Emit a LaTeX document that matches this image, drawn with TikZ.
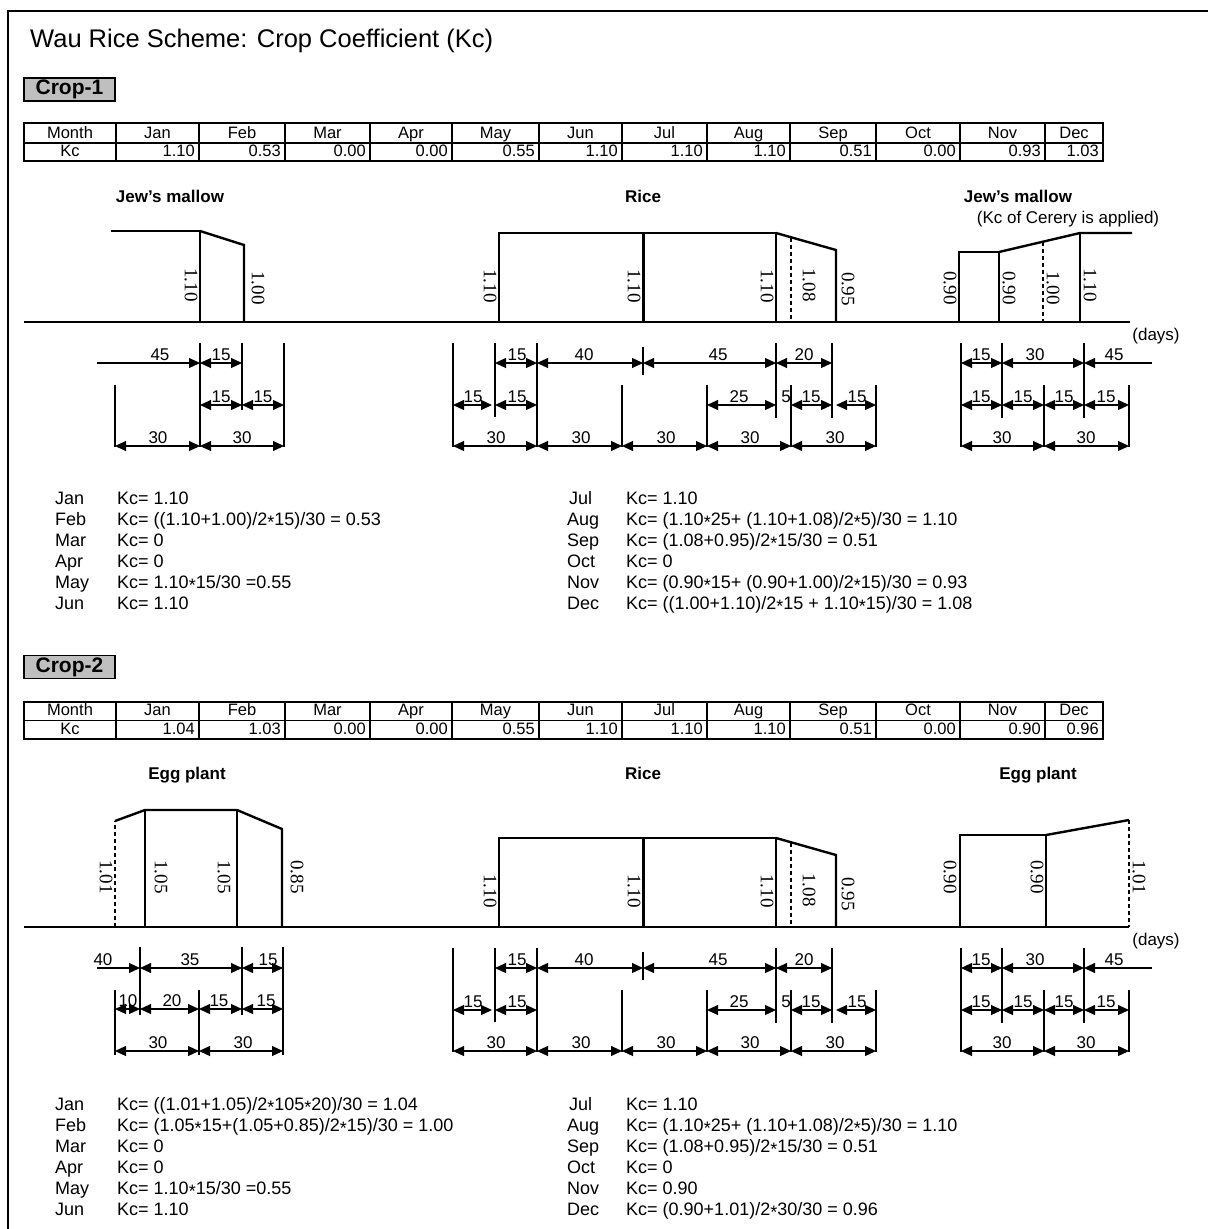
\documentclass[tikz,border=0pt]{standalone}
\usepackage{fontspec}
\setmainfont{Liberation Sans}
\newfontfamily\numserif{Liberation Serif}
\usetikzlibrary{arrows.meta}
\newcounter{nn}
\newcommand\fs[1]{\fontsize{#1}{#1}\selectfont}
\newcommand\mul{\raisebox{-0.35ex}{*}}
\tikzset{
  dtip/.tip={Triangle[length=11pt,width=10pt]},
  frameline/.style={line width=2pt},
  gridline/.style={line width=1.4pt},
  gline/.style={line width=2.4pt,line join=miter},
  gdash/.style={line width=1.3pt,dash pattern=on 4pt off 3pt},
  axisline/.style={line width=1.6pt},
  dimln/.style={line width=1.1pt},
  extln/.style={line width=1.1pt},
  dimlab/.style={anchor=south,inner sep=0.5pt,font=\fs{17}},
  vlab/.style={rotate=-90,inner sep=0pt,font=\numserif\fs{19}},
  tabtxt/.style={anchor=base,inner sep=0pt,font=\fs{16.5}},
  ftxt/.style={anchor=base west,inner sep=0pt,font=\fs{18}},
  gtitle/.style={anchor=base,inner sep=0pt,font=\bfseries\fs{17}},
  notetxt/.style={anchor=base,inner sep=0pt,font=\fs{17}},
  cropbox/.style={draw,line width=1.5pt,fill=black!25,minimum width=91pt,minimum height=23pt,inner sep=0pt,font=\bfseries\fs{21}},
}
% helpers
\newcommand\lab[4][]{\stepcounter{nn}\node[#1] (n\arabic{nn}) at (#2,#3) {#4};}
\newcommand\extl[3]{\draw[extln] (#1,#2) -- (#1,#3);}
\newcommand\dimbb[5]{\draw[dimln,dtip-dtip] (#1,#3) -- (#2,#3);\stepcounter{nn}\node[dimlab] (n\arabic{nn}) at (#4,#3-2) {#5};}
\newcommand\dimpb[5]{\draw[dimln,-dtip] (#1,#3) -- (#2,#3);\stepcounter{nn}\node[dimlab] (n\arabic{nn}) at (#4,#3-2) {#5};}
\newcommand\dimbp[5]{\draw[dimln,dtip-] (#1,#3) -- (#2,#3);\stepcounter{nn}\node[dimlab] (n\arabic{nn}) at (#4,#3-2) {#5};}
\newcommand\fline[5]{\stepcounter{nn}\node[ftxt] (n\arabic{nn}) at (#1,#3) {#4};\stepcounter{nn}\node[ftxt] (n\arabic{nn}) at (#2,#3) {#5};}
\newcommand\kctable[5]{%
  \draw[gridline] (24,#2) rectangle (1103,#4);
  \draw[gridline] (24,#3) -- (1103,#3);
  \draw[gridline] (116,#2) -- (116,#4);
  \node[tabtxt] (#1mh) at (70,#3-5) {Month};
  \node[tabtxt] (#1kh) at (70,#4-4.5) {Kc};
  \foreach \m/\xl/\xr/\v in {#5} {
    \draw[gridline] (\xr,#2) -- (\xr,#4);
    \node[tabtxt] (#1m\m) at ({(\xl+\xr)/2},#3-5) {\m};
    \node[tabtxt,anchor=base east] (#1v\m) at (\xr-4,#4-4.5) {\v};
  }
}
\newcommand\ricegraph{%
  \draw[gline] (499,322) -- (499,233) -- (776,233) -- (776,322);
  \draw[gline,line width=3pt] (643,233) -- (643,322);
  \draw[gline] (776,233) -- (836,250) -- (836,322);
  \draw[gdash] (791,237.5) -- (791,322);
  \lab[vlab]{490}{286}{1.10}
  \lab[vlab]{634}{286}{1.10}
  \lab[vlab]{767}{286}{1.10}
  \lab[vlab]{809}{285}{1.08}
  \lab[vlab]{848}{289}{0.95}
  \extl{453}{343}{447}\extl{495}{343}{417}\extl{537}{343}{447}
  \extl{643}{347}{375}\extl{622}{385}{447}\extl{707}{385}{447}
  \extl{776}{343}{418}\extl{791}{385}{447}\extl{832}{343}{418}
  \extl{876}{385}{447}
  \dimbb{495}{537}{363}{517}{15}
  \dimbb{537}{643}{363}{584}{40}
  \dimbb{643}{776}{363}{718}{45}
  \dimbb{776}{832}{363}{804}{20}
  \dimbb{453}{492}{405}{473}{15}
  \dimbb{495}{537}{405}{517}{15}
  \dimbb{707}{776}{405}{739}{25}
  \lab[dimlab]{786}{403}{5}
  \dimbb{791}{832}{405}{811}{15}
  \dimbb{836}{876}{405}{857}{15}
  \dimbb{453}{537}{446}{496}{30}
  \dimbb{537}{622}{446}{581}{30}
  \dimbb{622}{707}{446}{666}{30}
  \dimbb{707}{791}{446}{750}{30}
  \dimbb{791}{876}{446}{835}{30}
}
\newcommand\rightdims{%
  \extl{961}{343}{447}\extl{1002}{343}{418}\extl{1044}{385}{447}
  \extl{1084}{343}{418}\extl{1129}{385}{447}
  \dimbb{961}{1002}{363}{981}{15}
  \dimbb{1002}{1084}{363}{1035}{30}
  \dimbp{1084}{1152}{363}{1114}{45}
  \dimbb{961}{1002}{405}{981}{15}
  \dimbb{1002}{1044}{405}{1023}{15}
  \dimbb{1044}{1084}{405}{1064}{15}
  \dimbb{1084}{1129}{405}{1106}{15}
  \dimbb{961}{1044}{446}{1002}{30}
  \dimbb{1044}{1129}{446}{1086}{30}
}
\begin{document}
\begin{tikzpicture}[x=1pt,y=-1pt]
\useasboundingbox (0,0) rectangle (1208,1229);
\fill[white] (0,0) rectangle (1208,1229);
\draw[frameline] (8,1229) -- (8,11) -- (1208,11);
\node[anchor=base west,inner sep=0pt,font=\fs{25.5}] (title) at (30,47) {Wau Rice Scheme: Crop Coefficient (Kc)};

% ================= CROP 1 =================
\node[cropbox] (crop1) at (69.5,89.5) {Crop-1};
\kctable{a}{123}{143}{161}{Jan/116/199/1.10,Feb/199/285/0.53,Mar/285/370/0.00,Apr/370/452/0.00,May/452/539/0.55,Jun/539/622/1.10,Jul/622/707/1.10,Aug/707/790/1.10,Sep/790/876/0.51,Oct/876/960/0.00,Nov/960/1045/0.93,Dec/1045/1103/1.03}

\node[gtitle] (t1a) at (170,202) {Jew's mallow};
\node[gtitle] (t1b) at (643,202) {Rice};
\node[gtitle] (t1c) at (1018,202) {Jew's mallow};
\node[notetxt] (t1d) at (1068,223) {(Kc of Cerery is applied)};
\node[notetxt] (days1) at (1156,340) {(days)};

\draw[axisline] (24,322) -- (1130,322);
% left Jew's mallow
\draw[gline] (111,231) -- (200,231) -- (200,322);
\draw[gline] (200,231) -- (244,245) -- (244,322);
\lab[vlab]{191}{285}{1.10}
\lab[vlab]{258}{288}{1.00}
\extl{200}{343}{447}\extl{242}{343}{410}\extl{284}{343}{447}\extl{115}{385}{447}
\dimpb{97}{200}{363}{160}{45}
\dimbb{200}{242}{363}{221}{15}
\dimbb{200}{242}{405}{221}{15}
\dimbb{242}{284}{405}{263}{15}
\dimbb{115}{200}{446}{158}{30}
\dimbb{200}{284}{446}{242}{30}
% rice
\ricegraph
% right Jew's mallow
\draw[gline] (959,322) -- (959,252) -- (999,252) -- (999,322);
\draw[gline] (999,252) -- (1080,233) -- (1132,233);
\draw[gline] (1080,233) -- (1080,322);
\draw[gdash] (1043,241.7) -- (1043,322);
\lab[vlab]{950}{288}{0.90}
\lab[vlab]{1009}{288}{0.90}
\lab[vlab]{1053}{288}{1.00}
\lab[vlab]{1090}{285}{1.10}
\rightdims

\fline{55}{117}{504}{Jan}{Kc= 1.10}
\fline{55}{117}{525}{Feb}{Kc= ((1.10+1.00)/2\mul15)/30 = 0.53}
\fline{55}{117}{546}{Mar}{Kc= 0}
\fline{55}{117}{567}{Apr}{Kc= 0}
\fline{55}{117}{588}{May}{Kc= 1.10\mul15/30 =0.55}
\fline{55}{117}{609}{Jun}{Kc= 1.10}
\fline{569}{626}{504}{Jul}{Kc= 1.10}
\fline{567}{626}{525}{Aug}{Kc= (1.10\mul25+ (1.10+1.08)/2\mul5)/30 = 1.10}
\fline{567}{626}{546}{Sep}{Kc= (1.08+0.95)/2\mul15/30 = 0.51}
\fline{567}{626}{567}{Oct}{Kc= 0}
\fline{567}{626}{588}{Nov}{Kc= (0.90\mul15+ (0.90+1.00)/2\mul15)/30 = 0.93}
\fline{567}{626}{609}{Dec}{Kc= ((1.00+1.10)/2\mul15 + 1.10\mul15)/30 = 1.08}

% ================= CROP 2 =================
\node[cropbox] (crop2) at (69.5,667) {Crop-2};
\kctable{b}{702}{720.5}{739}{Jan/116/199/1.04,Feb/199/285/1.03,Mar/285/370/0.00,Apr/370/452/0.00,May/452/539/0.55,Jun/539/622/1.10,Jul/622/707/1.10,Aug/707/790/1.10,Sep/790/876/0.51,Oct/876/960/0.00,Nov/960/1045/0.90,Dec/1045/1103/0.96}

\node[gtitle] (t2a) at (187,779) {Egg plant};
\node[gtitle] (t2b) at (643,779) {Rice};
\node[gtitle] (t2c) at (1038,779) {Egg plant};
\node[notetxt] (days2) at (1156,945) {(days)};

\draw[axisline] (24,927) -- (1129,927);
% left egg plant
\draw[gdash] (115,927) -- (115,821);
\draw[gline] (115,821) -- (145,810) -- (237,810) -- (282,829) -- (282,927);
\draw[gline] (145,810) -- (145,927);
\draw[gline] (237,810) -- (237,927);
\lab[vlab]{106}{877}{1.01}
\lab[vlab]{161}{877}{1.05}
\lab[vlab]{224}{877}{1.05}
\lab[vlab]{297}{877}{0.85}
\extl{140}{947}{1015}\extl{242}{947}{1015}\extl{283}{947}{1055}
\extl{115}{990}{1055}\extl{199}{990}{1055}
\dimpb{97}{140}{968}{103}{40}
\dimbb{140}{242}{968}{190}{35}
\dimbb{242}{283}{968}{268}{15}
\dimbb{115}{140}{1009}{128}{10}
\dimbb{140}{199}{1009}{172}{20}
\dimbb{199}{242}{1009}{219}{15}
\dimbb{242}{283}{1009}{266}{15}
\dimbb{115}{199}{1051}{158}{30}
\dimbb{199}{283}{1051}{243}{30}
% rice
\begin{scope}[yshift=-605pt]
\ricegraph
\end{scope}
% right egg plant
\draw[gline] (960,927) -- (960,835) -- (1046,835) -- (1046,927);
\draw[gline] (1046,835) -- (1129,820);
\draw[gdash] (1129,820) -- (1129,927);
\lab[vlab]{950}{877}{0.90}
\lab[vlab]{1037}{877}{0.90}
\lab[vlab]{1139}{877}{1.01}
\begin{scope}[yshift=-605pt]
\rightdims
\end{scope}

\fline{55}{117}{1110}{Jan}{Kc= ((1.01+1.05)/2\mul105\mul20)/30 = 1.04}
\fline{55}{117}{1131}{Feb}{Kc= (1.05\mul15+(1.05+0.85)/2\mul15)/30 = 1.00}
\fline{55}{117}{1152}{Mar}{Kc= 0}
\fline{55}{117}{1173}{Apr}{Kc= 0}
\fline{55}{117}{1194}{May}{Kc= 1.10\mul15/30 =0.55}
\fline{55}{117}{1215}{Jun}{Kc= 1.10}
\fline{569}{626}{1110}{Jul}{Kc= 1.10}
\fline{567}{626}{1131}{Aug}{Kc= (1.10\mul25+ (1.10+1.08)/2\mul5)/30 = 1.10}
\fline{567}{626}{1152}{Sep}{Kc= (1.08+0.95)/2\mul15/30 = 0.51}
\fline{567}{626}{1173}{Oct}{Kc= 0}
\fline{567}{626}{1194}{Nov}{Kc= 0.90}
\fline{567}{626}{1215}{Dec}{Kc= (0.90+1.01)/2\mul30/30 = 0.96}
\end{tikzpicture}
\end{document}
